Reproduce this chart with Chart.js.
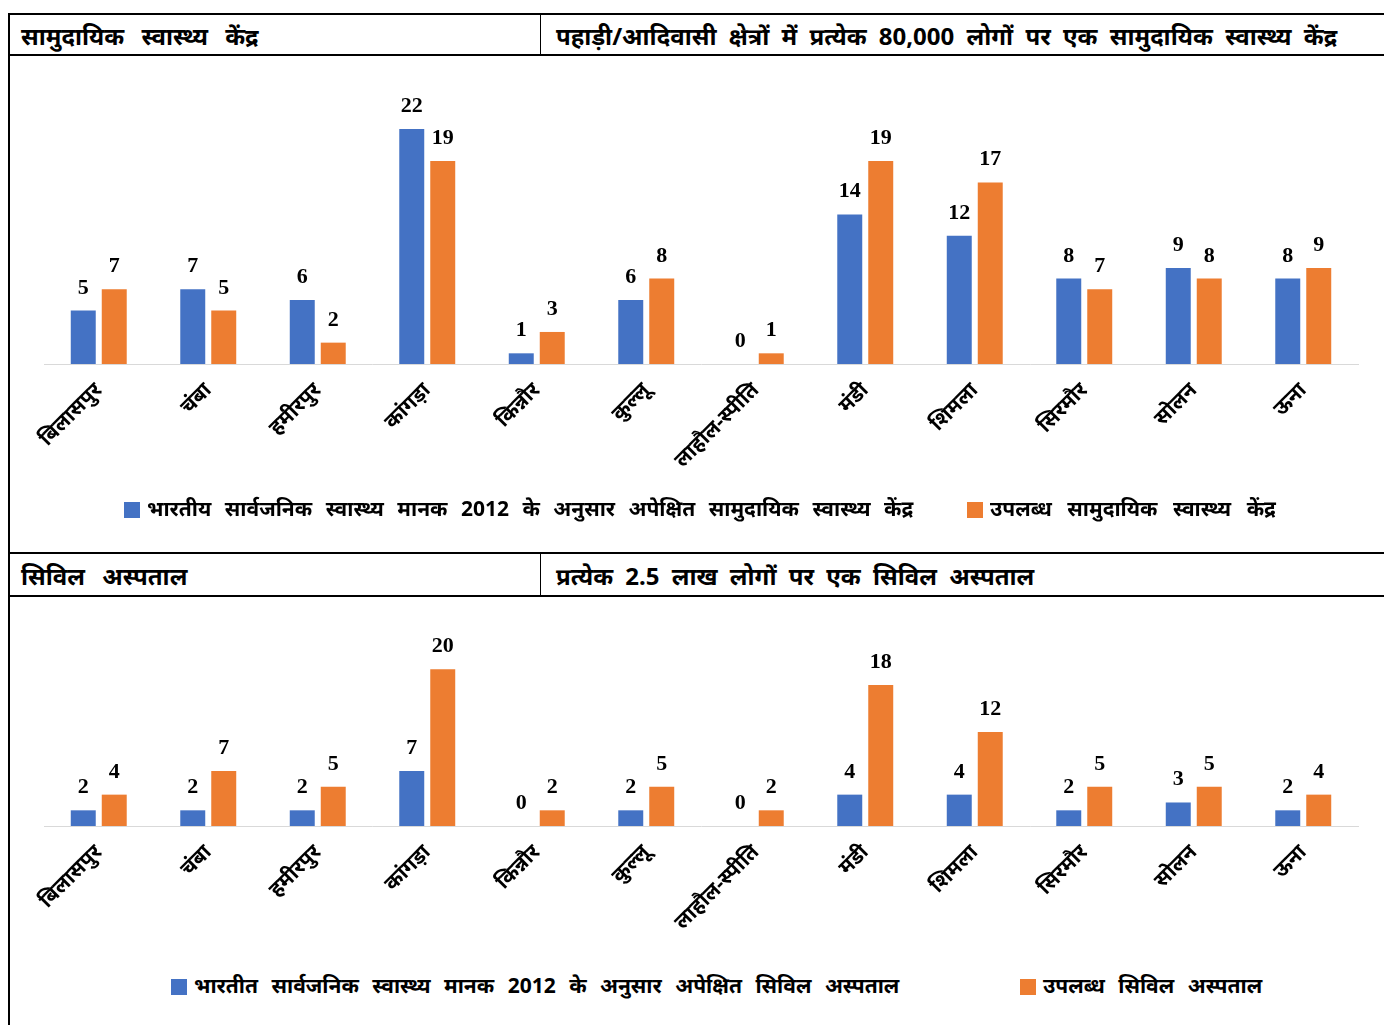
<!DOCTYPE html>
<html lang="hi">
<head>
  <meta charset="UTF-8">
  <title>सामुदायिक स्वास्थ्य केंद्र और सिविल अस्पताल</title>
  <script src="https://cdn.jsdelivr.net/npm/chart.js"></script>
  <style>
    body {
      margin: 0;
      background: #fff;
      font-family: 'Liberation Sans Narrow', 'Noto Sans', sans-serif;
      width: 1384px;
      height: 1025px;
      overflow: hidden;
      position: relative;
    }
    .frame {
      position: absolute;
      left: 8px;
      top: 13px;
      width: 1390px;
      height: 1030px;
      border-left: 2px solid #000;
      border-top: 2px solid #000;
    }
    .head {
      position: absolute;
      left: 8px;
      width: 1390px;
      border-top: 2px solid #000;
      border-bottom: 2px solid #000;
      box-sizing: border-box;
      font-weight: bold;
      font-size: 24px;
      word-spacing: 6px;
      color: #000;
    }
    .head span {
      position: absolute;
      top: 50%;
      transform: translateY(-50%);
      white-space: nowrap;
    }
    .head span.left { word-spacing: 11px; }
    .head .divider {
      position: absolute;
      left: 532px;
      top: 0;
      bottom: 0;
      border-left: 1px solid #000;
    }
    .chart-box {
      position: absolute;
      left: 11px;
      width: 1372px;
    }
    .legend {
      position: absolute;
      font-weight: bold;
      font-size: 21px;
      word-spacing: 8px;
      white-space: nowrap;
    }
    .legend i {
      display: inline-block;
      width: 16px;
      height: 16px;
      margin-right: 7px;
      vertical-align: -2px;
    }
  </style>
</head>
<body>
  <div class="frame"></div>

  <div class="head" style="top: 13px; height: 43px;">
    <span class="left" style="left: 13px;">सामुदायिक स्वास्थ्य केंद्र</span>
    <div class="divider"></div>
    <span style="left: 548px;">पहाड़ी/आदिवासी क्षेत्रों में प्रत्येक 80,000 लोगों पर एक सामुदायिक स्वास्थ्य केंद्र</span>
  </div>

  <div class="chart-box" style="top: 56px; height: 440px;">
    <canvas id="chc"></canvas>
  </div>
  <div class="legend" style="left: 124px; top: 494px;"><i style="background:#4472C4"></i>भारतीय सार्वजनिक स्वास्थ्य मानक 2012 के अनुसार अपेक्षित सामुदायिक स्वास्थ्य केंद्र</div>
  <div class="legend" style="left: 967px; top: 494px; word-spacing: 10px;"><i style="background:#ED7D31"></i>उपलब्ध सामुदायिक स्वास्थ्य केंद्र</div>

  <div class="head" style="top: 552px; height: 45px;">
    <span class="left" style="left: 13px;">सिविल अस्पताल</span>
    <div class="divider"></div>
    <span style="left: 548px;">प्रत्येक 2.5 लाख लोगों पर एक सिविल अस्पताल</span>
  </div>

  <div class="chart-box" style="top: 598px; height: 360px;">
    <canvas id="ch"></canvas>
  </div>
  <div class="legend" style="left: 171px; top: 971px;"><i style="background:#4472C4"></i>भारतीत सार्वजनिक स्वास्थ्य मानक 2012 के अनुसार अपेक्षित सिविल अस्पताल</div>
  <div class="legend" style="left: 1020px; top: 971px;"><i style="background:#ED7D31"></i>उपलब्ध सिविल अस्पताल</div>

  <script>
    // जिले
    const districts = ['बिलासपुर', 'चंबा', 'हमीरपुर', 'कांगड़ा', 'किन्नौर', 'कुल्लू', 'लाहौल-स्पीति', 'मंडी', 'शिमला', 'सिरमौर', 'सोलन', 'ऊना'];

    // सामुदायिक स्वास्थ्य केंद्र
    const chcExpected = [5, 7, 6, 22, 1, 6, 0, 14, 12, 8, 9, 8];
    const chcAvailable = [7, 5, 2, 19, 3, 8, 1, 19, 17, 7, 8, 9];

    // सिविल अस्पताल
    const chExpected = [2, 2, 2, 7, 0, 2, 0, 4, 4, 2, 3, 2];
    const chAvailable = [4, 7, 5, 20, 2, 5, 2, 18, 12, 5, 5, 4];

    const BLUE = '#4472C4';
    const ORANGE = '#ED7D31';

    // bar value labels, drawn above each bar
    const valueLabels = {
      id: 'valueLabels',
      afterDatasetsDraw(chart) {
        const ctx = chart.ctx;
        ctx.save();
        ctx.font = 'bold 22px "Liberation Serif", serif';
        ctx.fillStyle = '#000';
        ctx.textAlign = 'center';
        ctx.textBaseline = 'alphabetic';
        chart.data.datasets.forEach((ds, i) => {
          chart.getDatasetMeta(i).data.forEach((bar, j) => {
            ctx.fillText(ds.data[j], bar.x, bar.y - 17);
          });
        });
        ctx.restore();
      }
    };

    function makeChart(id, expected, available, padTop) {
      return new Chart(document.getElementById(id), {
        type: 'bar',
        data: {
          labels: districts,
          datasets: [
            { data: expected, backgroundColor: BLUE },
            { data: available, backgroundColor: ORANGE }
          ]
        },
        options: {
          responsive: true,
          maintainAspectRatio: false,
          animation: false,
          layout: { padding: { top: padTop, left: 33, right: 25, bottom: 0 } },
          datasets: {
            bar: { categoryPercentage: 0.566, barPercentage: 0.806 }
          },
          plugins: {
            legend: { display: false },
            tooltip: { enabled: false }
          },
          scales: {
            x: {
              grid: { display: false, drawTicks: false },
              border: { color: '#d9d9d9', width: 1 },
              ticks: {
                minRotation: 45,
                maxRotation: 45,
                padding: 14,
                color: '#000',
                font: { size: 21, weight: 'bold', family: "'Noto Sans', sans-serif" }
              },
              afterFit(scale) { scale.height = 132; }
            },
            y: {
              display: false,
              min: 0,
              max: 25
            }
          }
        },
        plugins: [valueLabels]
      });
    }

    makeChart('chc', chcExpected, chcAvailable, 41);
    makeChart('ch', chExpected, chAvailable, 32);
  </script>
</body>
</html>
